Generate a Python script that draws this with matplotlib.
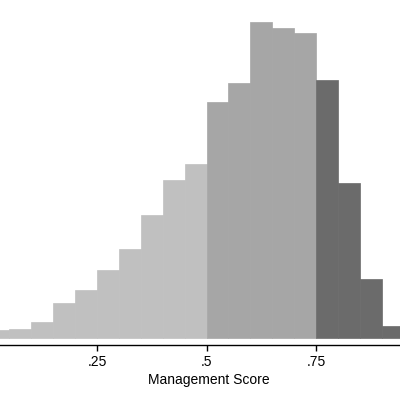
import matplotlib.pyplot as plt
import numpy as np

# bin edges (width .05) and share of firms in each bin (percent)
bin_left = [0.00, 0.05, 0.10, 0.15, 0.20, 0.25, 0.30, 0.35, 0.40, 0.45,
            0.50, 0.55, 0.60, 0.65, 0.70, 0.75, 0.80, 0.85, 0.90]
pct = [0.29, 0.33, 0.60, 1.32, 1.81, 2.58, 3.37, 4.67, 6.00, 6.61,
       8.97, 9.69, 12.01, 11.78, 11.59, 9.80, 5.89, 2.23, 0.45]
width = 0.05

tick_pos = [0.25, 0.5, 0.75]
tick_lab = [".25", ".5", ".75"]

def shade(x):
    if x < 0.5:
        return "#c0c0c0"
    if x < 0.75:
        return "#a6a6a6"
    return "#6b6b6b"

colors = [shade(b) for b in bin_left]

plt.rcParams['font.family'] = ['Liberation Sans', 'DejaVu Sans']

fig = plt.figure(figsize=(4, 4), dpi=100)
ax = fig.add_axes([0, 0.1375, 1, 0.8625])

ax.bar(bin_left, pct, width=width, align='edge', color=colors,
       edgecolor=colors, linewidth=0.5)

ax.set_xlim(0.0285, 0.9418)
ax.set_ylim(-0.278, 12.85)

for s in ['top', 'left', 'right']:
    ax.spines[s].set_visible(False)
ax.spines['bottom'].set_linewidth(1.0)
ax.set_yticks([])
ax.set_xticks(tick_pos)
ax.set_xticklabels(tick_lab, fontsize=10)
ax.tick_params(axis='x', direction='out', length=4, width=1, pad=3)
ax.set_xlabel("Management Score", fontsize=10)
ax.xaxis.set_label_coords(0.522, -0.08)

plt.savefig("out.png", dpi=100)
